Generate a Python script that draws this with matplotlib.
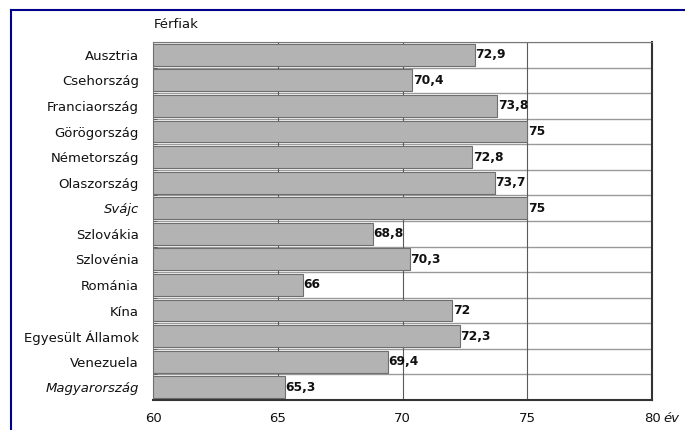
import matplotlib
matplotlib.use('Agg')
import matplotlib.pyplot as plt
from matplotlib.lines import Line2D

plt.rcParams['font.family'] = ['DejaVu Sans']

# ── data ─────────────────────────────────────────────────────────────────────
countries = ['Ausztria', 'Csehország', 'Franciaország', 'Görögország',
             'Németország', 'Olaszország', 'Svájc', 'Szlovákia', 'Szlovénia',
             'Románia', 'Kína', 'Egyesült Államok', 'Venezuela', 'Magyarország']
values = [72.9, 70.4, 73.8, 75, 72.8, 73.7, 75, 68.8, 70.3, 66, 72, 72.3, 69.4, 65.3]
italic_rows = ['Svájc', 'Magyarország']
x_ticks = [60, 65, 70, 75, 80]

BAR_C = '#b3b3b3'
EDGE_C = '#6e6e6e'
GRID_C = '#9a9a9a'
VGRID_C = '#5a5a5a'
FRAME_C = '#00008b'
TXT_C = '#111111'

fig = plt.figure(figsize=(6.85, 4.30), dpi=100, facecolor='white')
ax = fig.add_axes([153 / 685, 1 - 400 / 430, (652 - 153) / 685, (400 - 42) / 430])

y = list(range(len(countries)))
xmin = x_ticks[0]
ax.barh(y, [v - xmin for v in values], left=xmin, height=0.86,
        color=BAR_C, edgecolor=EDGE_C, linewidth=0.8, zorder=3)

# row separators and vertical grid
for k in range(len(countries) + 1):
    ax.axhline(k - 0.5, color=GRID_C, lw=1.0, zorder=1)
for xv in x_ticks[1:-1]:
    ax.axvline(xv, color=VGRID_C, lw=0.8, zorder=1)

ax.set_xlim(x_ticks[0], x_ticks[-1])
ax.set_ylim(len(countries) - 0.5, -0.5)

for yi, v in zip(y, values):
    txt = f'{v:g}'.replace('.', ',')
    ax.text(v + 0.02, yi, txt, va='center', ha='left', fontsize=8.8,
            fontweight='bold', color=TXT_C, zorder=4)

ax.set_yticks(y)
ax.set_yticklabels(countries, fontsize=9.5, color=TXT_C)
for lab in ax.get_yticklabels():
    if lab.get_text() in italic_rows:
        lab.set_style('italic')
ax.set_yticks([k - 0.5 for k in range(len(countries) + 1)], minor=True)
ax.tick_params(axis='y', which='major', length=0, pad=10)
ax.tick_params(axis='y', which='minor', length=3, direction='in', color='#555555')

ax.set_xticks(x_ticks)
ax.set_xticklabels([str(t) for t in x_ticks], fontsize=9.5, color=TXT_C)
ax.tick_params(axis='x', length=0, pad=8.5)

fig.text(663 / 685, 1 - 418 / 430, 'év', ha='left', va='center',
         fontsize=9.5, style='italic', color=TXT_C)

ax.spines['top'].set_color('#777777')
ax.spines['left'].set_color('#777777')
ax.spines['right'].set_color('#333333')
ax.spines['bottom'].set_color('#333333')
ax.spines['right'].set_linewidth(1.5)
ax.spines['bottom'].set_linewidth(1.5)

fig.text(154 / 685, 1 - 25 / 430, 'Férfiak', ha='left', va='center',
         fontsize=9.5, color=TXT_C)

# outer frame (top and left edges visible)
fig.add_artist(Line2D([11 / 685, 1.0], [1 - 9.5 / 430, 1 - 9.5 / 430],
                      transform=fig.transFigure, color=FRAME_C, lw=1.5))
fig.add_artist(Line2D([11 / 685, 11 / 685], [0.0, 1 - 9.5 / 430],
                      transform=fig.transFigure, color=FRAME_C, lw=1.5))

fig.savefig('out.png', dpi=100, facecolor='white')
